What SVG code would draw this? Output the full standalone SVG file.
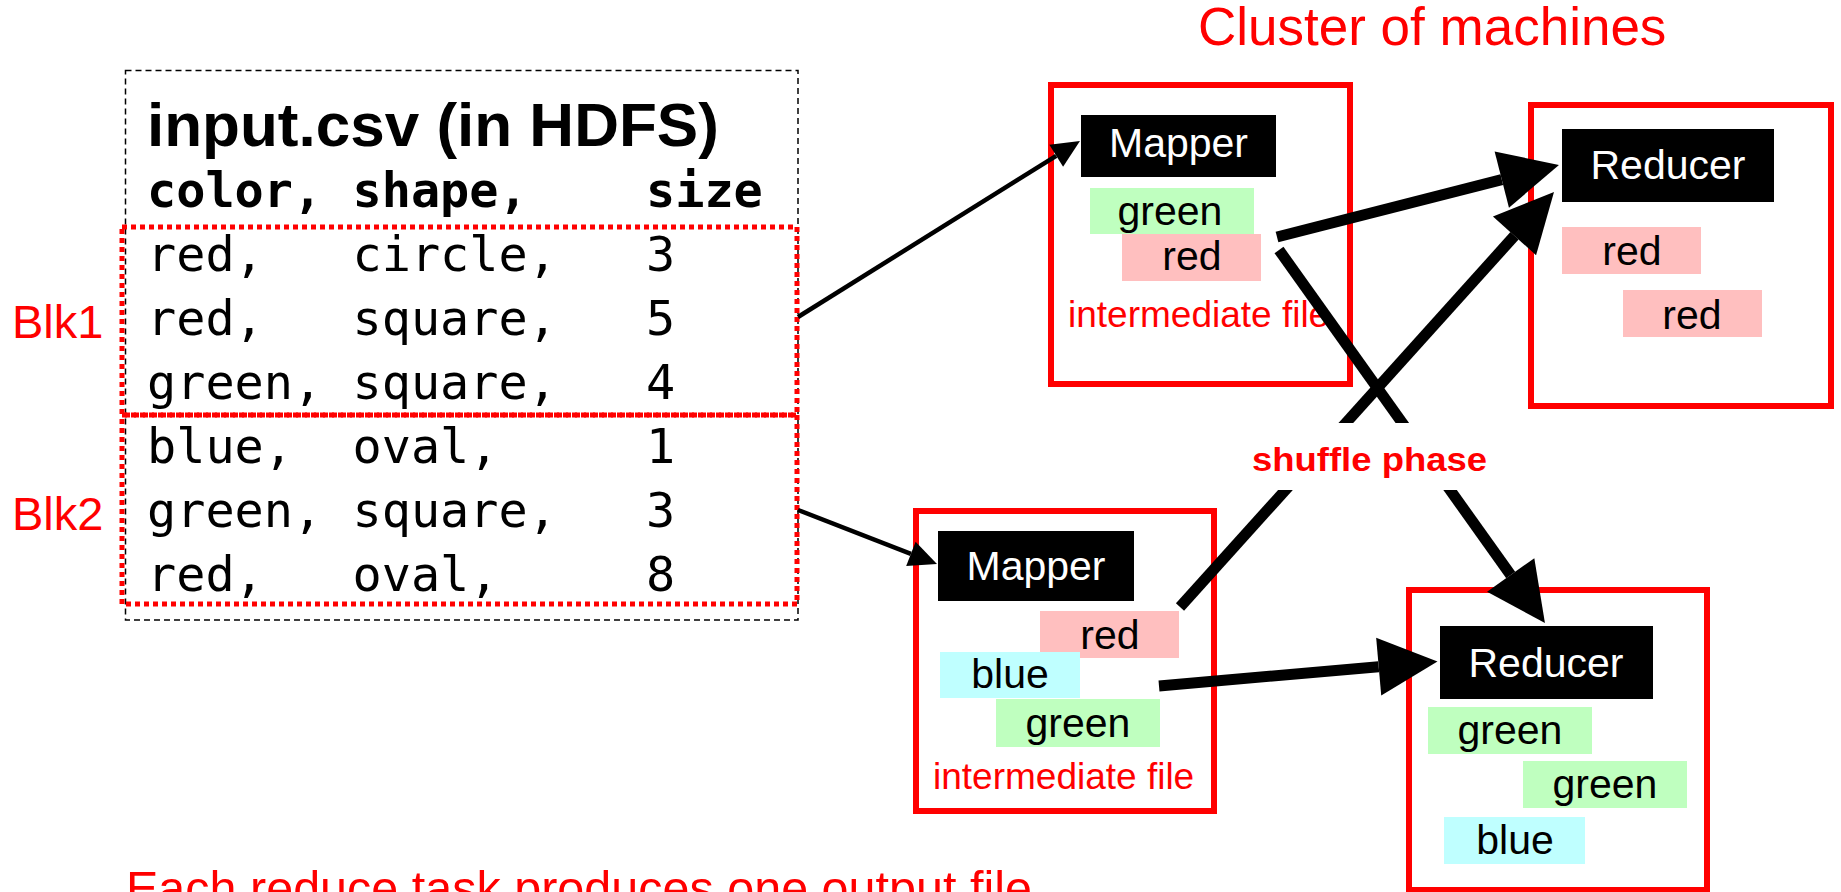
<svg xmlns="http://www.w3.org/2000/svg" width="1841" height="892" viewBox="0 0 1841 892">
<style>
.frame{fill:none;stroke:#ff0000;stroke-width:6}
.blk{fill:#000}
.wt{fill:#fff;font-family:"Liberation Sans",Arial,sans-serif;font-size:41px;text-anchor:middle}
.lbl{fill:#000;font-family:"Liberation Sans",Arial,sans-serif;font-size:41px;text-anchor:middle}
.g{fill:#bfffbf}.r{fill:#ffbfbf}.b{fill:#bfffff}
.red{fill:#ff0000;font-family:"Liberation Sans",Arial,sans-serif}
.mono{font-family:"DejaVu Sans Mono","Liberation Mono",monospace;font-size:48.5px;fill:#000}
.thin{stroke:#000;stroke-width:4.5;fill:none}
.thick{stroke:#000;stroke-width:11;fill:none}
</style>
<defs>
<marker id="ah" markerUnits="userSpaceOnUse" markerWidth="30" markerHeight="28" refX="0" refY="13" orient="auto" overflow="visible"><path d="M0,0 L28,13 L0,26 Z" fill="#000"/></marker>
<marker id="AH" markerUnits="userSpaceOnUse" markerWidth="60" markerHeight="60" refX="0" refY="29" orient="auto" overflow="visible"><path d="M0,0 L59,29 L0,58 Z" fill="#000"/></marker>
</defs>
<rect width="1841" height="892" fill="#fff"/>
<text id="title" class="red" x="1198" y="45" font-size="53">Cluster of machines</text>
<g id="input">
<rect x="125.5" y="70.5" width="672.5" height="549.5" fill="none" stroke="#000" stroke-width="1.5" stroke-dasharray="6 4"/>
<text x="147" y="146" font-family="Liberation Sans,Arial,sans-serif" font-weight="bold" font-size="62">input.csv (in HDFS)</text>
<g class="mono" font-weight="bold"><text x="147" y="207">color,</text><text x="352.5" y="207">shape,</text><text x="646" y="207">size</text></g>
<g class="mono">
<text x="147" y="271">red,</text><text x="352.5" y="271">circle,</text><text x="646" y="271">3</text>
<text x="147" y="335">red,</text><text x="352.5" y="335">square,</text><text x="646" y="335">5</text>
<text x="147" y="399">green,</text><text x="352.5" y="399">square,</text><text x="646" y="399">4</text>
<text x="147" y="463">blue,</text><text x="352.5" y="463">oval,</text><text x="646" y="463">1</text>
<text x="147" y="527">green,</text><text x="352.5" y="527">square,</text><text x="646" y="527">3</text>
<text x="147" y="591">red,</text><text x="352.5" y="591">oval,</text><text x="646" y="591">8</text>
</g>
</g>
<g id="blk1">
<rect x="122" y="227" width="675" height="188" fill="none" stroke="#ff0000" stroke-width="5" stroke-dasharray="5 4"/>
<text class="red" x="12" y="338" font-size="47">Blk1</text>
</g>
<g id="blk2">
<rect x="122" y="415" width="675" height="189" fill="none" stroke="#ff0000" stroke-width="5" stroke-dasharray="5 4"/>
<text class="red" x="12" y="530" font-size="47">Blk2</text>
</g>
<g id="mapper1">
<rect class="frame" x="1051" y="85" width="299" height="299"/>
<rect class="blk" x="1081" y="115" width="195" height="62"/>
<text class="wt" x="1178.5" y="157">Mapper</text>
<rect class="g" x="1090" y="188" width="164" height="46"/>
<text class="lbl" x="1170" y="225">green</text>
<rect class="r" x="1122" y="234" width="139" height="47"/>
<text class="lbl" x="1192" y="270">red</text>
<text class="red" x="1068" y="327" font-size="37">intermediate file</text>
</g>
<g id="reducer1">
<rect class="frame" x="1531" y="105" width="300" height="301"/>
<rect class="blk" x="1562" y="129" width="212" height="73"/>
<text class="wt" x="1668" y="179">Reducer</text>
<rect class="r" x="1562" y="227" width="139" height="47"/>
<text class="lbl" x="1632" y="265">red</text>
<rect class="r" x="1623" y="290" width="139" height="47"/>
<text class="lbl" x="1692" y="329">red</text>
</g>
<g id="mapper2">
<rect class="frame" x="916" y="511" width="298" height="300"/>
<rect class="blk" x="938" y="531" width="196" height="70"/>
<text class="wt" x="1036" y="580">Mapper</text>
<rect class="r" x="1040" y="611" width="139" height="47"/>
<text class="lbl" x="1110" y="649">red</text>
<rect class="b" x="940" y="652" width="140" height="46"/>
<text class="lbl" x="1010" y="688">blue</text>
<rect class="g" x="996" y="699" width="164" height="48"/>
<text class="lbl" x="1078" y="737">green</text>
<text class="red" x="933" y="789" font-size="37">intermediate file</text>
</g>
<g id="reducer2">
<rect class="frame" x="1409" y="590" width="298" height="300"/>
<rect class="blk" x="1440" y="626" width="213" height="73"/>
<text class="wt" x="1546" y="677">Reducer</text>
<rect class="g" x="1428" y="707" width="164" height="47"/>
<text class="lbl" x="1510" y="744">green</text>
<rect class="g" x="1523" y="761" width="164" height="47"/>
<text class="lbl" x="1605" y="798">green</text>
<rect class="b" x="1444" y="817" width="141" height="47"/>
<text class="lbl" x="1515" y="854">blue</text>
</g>
<text id="note" class="red" x="126" y="905" font-size="48.5">Each reduce task produces one output file</text>
<g id="connectors">
<line class="thin" x1="798" y1="317" x2="1056.2" y2="155.8" marker-end="url(#ah)"/>
<line class="thin" x1="798" y1="510" x2="910.9" y2="553.9" marker-end="url(#ah)"/>
<line class="thick" x1="1277" y1="237" x2="1501.8" y2="179.6" marker-end="url(#AH)"/>
<line class="thick" x1="1279" y1="250" x2="1510.7" y2="575" marker-end="url(#AH)"/>
<line class="thick" x1="1180" y1="607" x2="1514.5" y2="235.8" marker-end="url(#AH)"/>
<line class="thick" x1="1159" y1="686" x2="1378.7" y2="666.7" marker-end="url(#AH)"/>
</g>
<g id="shuffle">
<rect x="1240" y="423" width="260" height="67" fill="#fff"/>
<text class="red" x="1252" y="471" font-size="33" font-weight="bold" textLength="235" lengthAdjust="spacingAndGlyphs">shuffle phase</text>
</g>
</svg>
